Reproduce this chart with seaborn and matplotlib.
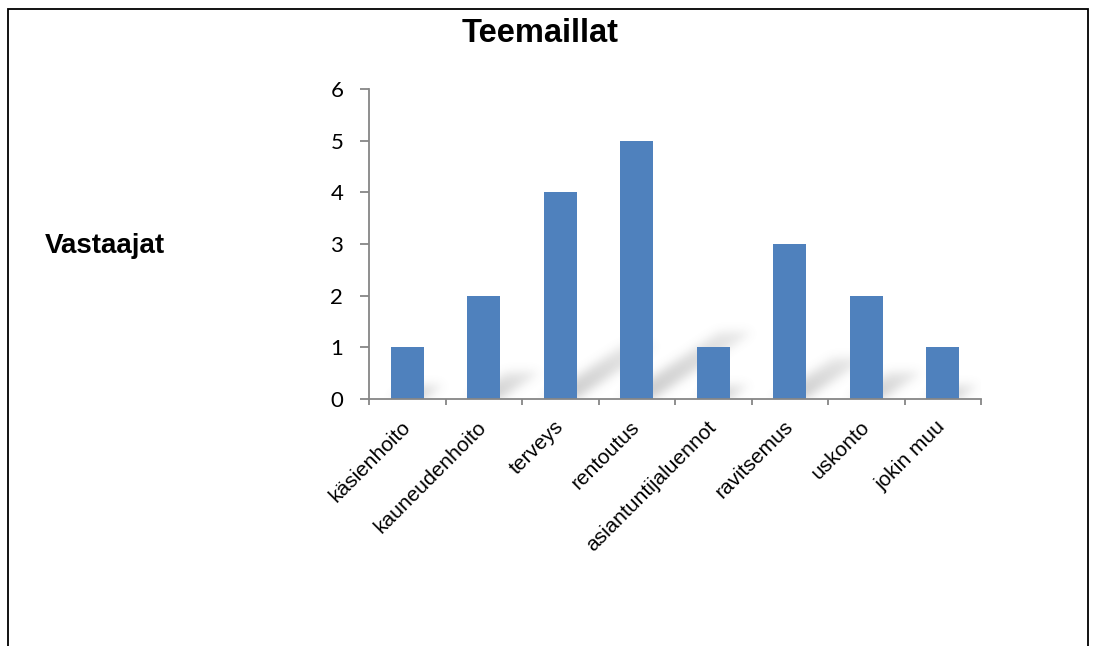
import numpy as np
import pandas as pd
import matplotlib
matplotlib.use("Agg")
import matplotlib.pyplot as plt
from matplotlib.patches import Rectangle
import seaborn as sns

# ---- data ----
categories = ["käsienhoito", "kauneudenhoito", "terveys", "rentoutus",
              "asiantuntijaluennot", "ravitsemus", "uskonto", "jokin muu"]
values = [1, 2, 4, 5, 1, 3, 2, 1]
y_ticks = [0, 1, 2, 3, 4, 5, 6]
title = "Teemaillat"
ylabel = "Vastaajat"

sns.set_theme(style="white")
plt.rcParams["font.family"] = ["Liberation Sans", "DejaVu Sans"]
plt.rcParams["text.color"] = "black"
plt.rcParams["axes.labelcolor"] = "black"
plt.rcParams["xtick.color"] = "black"
plt.rcParams["ytick.color"] = "black"

W, H = 1093, 646
fig = plt.figure(figsize=(W / 100, H / 100), dpi=100)
fig.patch.set_facecolor("white")
ax = fig.add_axes([369 / W, 1 - 399 / H, 612 / W, 310 / H])

df = pd.DataFrame({"cat": categories, "val": values})
sns.barplot(data=df, x="cat", y="val", color="#4F81BD", saturation=1,
            width=0.43, ax=ax, zorder=3, linewidth=0)

ax.set_xlim(-0.5, len(categories) - 0.5)
ax.set_ylim(0, 6)

# soft cast shadows behind bars (derived from bar geometry)
nx, ny = 612, 310
xs = np.linspace(-0.5, len(categories) - 0.5, nx)
ys = np.linspace(0, 6, ny)
X, Y = np.meshgrid(xs, ys)
mask = np.zeros_like(X)
for p in ax.patches:
    x0 = p.get_x()
    x1 = x0 + p.get_width()
    v = p.get_height()
    dx, dy = 0.26 * v, 0.26 * v
    t = np.clip(Y / dy, 0, None)
    inside = (Y <= dy) & (X >= x0 + t * dx) & (X <= x1 + t * dx)
    mask = np.maximum(mask, inside * (1 - 0.55 * t))
sig = 5.0
k = np.arange(-15, 16)
kern = np.exp(-0.5 * (k / sig) ** 2)
kern /= kern.sum()
blur = np.apply_along_axis(lambda r: np.convolve(r, kern, mode="same"), 1, mask)
blur = np.apply_along_axis(lambda c: np.convolve(c, kern, mode="same"), 0, blur)
rgba = np.zeros((ny, nx, 4))
rgba[..., :3] = 0.45
rgba[..., 3] = 0.38 * blur
ax.imshow(rgba, extent=(xs[0], xs[-1], 0, 6), origin="lower",
          aspect="auto", zorder=1, interpolation="bilinear")
ax.set_xlim(-0.5, len(categories) - 0.5)
ax.set_ylim(0, 6)

for s in ["top", "right"]:
    ax.spines[s].set_visible(False)
for s in ["left", "bottom"]:
    ax.spines[s].set_color("#868686")
    ax.spines[s].set_linewidth(1.3)
    ax.spines[s].set_zorder(4)

ax.set_yticks(y_ticks)
ax.set_yticklabels([str(t) for t in y_ticks], family=["Lato", "DejaVu Sans"],
                   fontsize=16, color="black")
ax.tick_params(axis="y", which="major", length=6.5, width=1.3,
               color="#868686", labelcolor="black", pad=12, left=True)

ax.set_xticks(range(len(categories)))
ax.set_xticklabels(categories, rotation=45, ha="right",
                   rotation_mode="anchor", fontsize=15, color="black",
                   family=["Liberation Sans", "DejaVu Sans"], va="center")
ax.tick_params(axis="x", which="major", length=0, pad=18, bottom=True,
               labelcolor="black")
ax.set_xticks(np.arange(-0.5, len(categories), 1), minor=True)
ax.tick_params(axis="x", which="minor", length=4.5, width=1.3,
               color="#868686", bottom=True)

ax.set_xlabel("")
ax.set_ylabel("")
ax.grid(False)

fig.text(540 / W, 1 - 33 / H, title, ha="center", va="center",
         fontsize=23.5, fontweight="bold", family="Liberation Sans",
         color="black")
fig.text(45 / W, 1 - 246 / H, ylabel, ha="left", va="center",
         fontsize=20, fontweight="bold", family="Liberation Sans",
         color="black")

frame = Rectangle((8 / W, -0.1), (1088 - 8) / W, 1.1 - 9 / H,
                  transform=fig.transFigure, fill=False, edgecolor="black",
                  linewidth=1.3, clip_on=False)
fig.patches.append(frame)

fig.savefig("out.png", dpi=100)
